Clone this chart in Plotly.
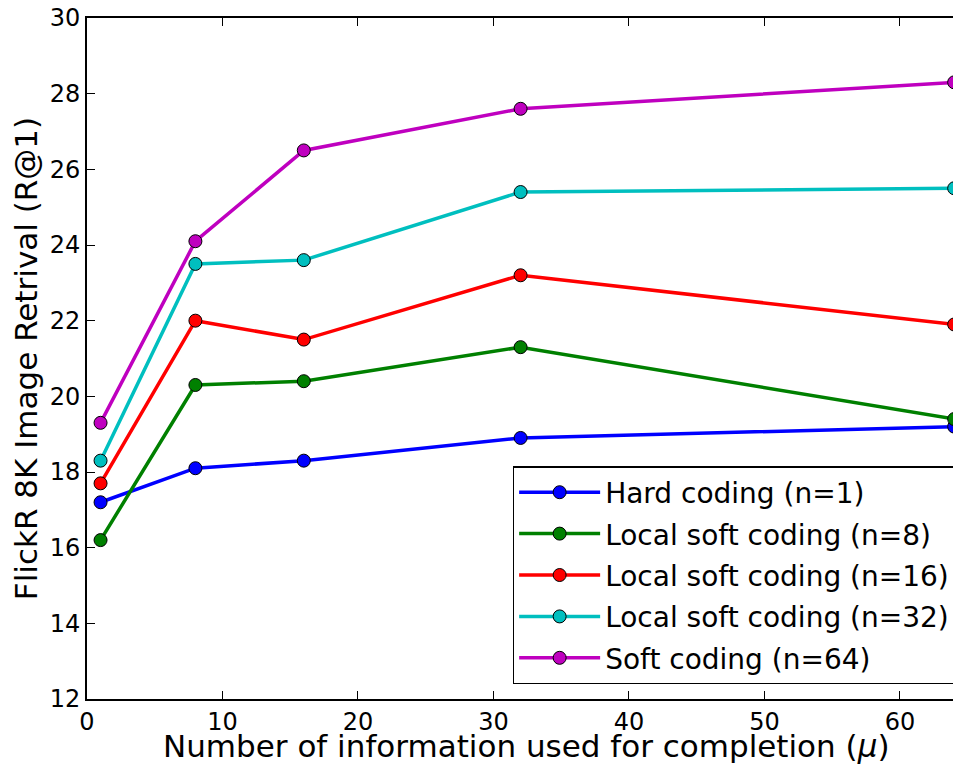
import plotly.graph_objects as go

mu = [1, 8, 16, 32, 64]
hard_n1 = [17.2, 18.1, 18.3, 18.9, 19.2]
local_n8 = [16.2, 20.3, 20.4, 21.3, 19.4]
local_n16 = [17.7, 22.0, 21.5, 23.2, 21.9]
local_n32 = [18.3, 23.5, 23.6, 25.4, 25.5]
soft_n64 = [19.3, 24.1, 26.5, 27.6, 28.3]

x_title = "Number of information used for completion (<i>μ</i>)"
y_title = "FlickR 8K Image Retrival (R@1)"

series = [
    ("Hard coding (n=1)", hard_n1, "#0000ff"),
    ("Local soft coding (n=8)", local_n8, "#008000"),
    ("Local soft coding (n=16)", local_n16, "#ff0000"),
    ("Local soft coding (n=32)", local_n32, "#00bfbf"),
    ("Soft coding (n=64)", soft_n64, "#bf00bf"),
]

fig = go.Figure()
for i, (name, vals, col) in enumerate(series):
    fig.add_trace(go.Scatter(
        x=mu, y=vals, name=name, mode="lines+markers",
        line=dict(color=col, width=3.5),
        marker=dict(color=col, size=13, line=dict(color="black", width=1)),
        legendgroup=str(i),
        cliponaxis=False,
    ))

axis_common = dict(
    showline=True, linecolor="black", linewidth=2,
    ticks="inside", ticklen=8, tickwidth=1, tickcolor="black",
    showgrid=False, zeroline=False, automargin=False,
    ticklabeloverflow="allow",
    tickfont=dict(family="DejaVu Sans", size=24, color="black"),
)

# the page adds an 8px body margin, so the margins below are shifted by 8px
fig.update_layout(
    width=961, height=764,
    margin=dict(l=79, r=9, t=10, b=73),
    paper_bgcolor="white", plot_bgcolor="white",
    font=dict(family="DejaVu Sans", color="black"),
    xaxis=dict(range=[0, 64.43], dtick=10, tick0=0, mirror="allticks",
               **axis_common),
    yaxis=dict(range=[12, 30], dtick=2, tick0=12, mirror=False,
               title=dict(text=y_title, font=dict(size=31), standoff=6),
               **axis_common),
    legend=dict(
        x=0.995, y=0.022, xanchor="right", yanchor="bottom",
        bgcolor="white", bordercolor="black", borderwidth=1.5,
        font=dict(size=28, family="DejaVu Sans"),
        traceorder="grouped", tracegroupgap=2,
        itemwidth=81,
    ),
    annotations=[dict(
        text=x_title, xref="paper", yref="paper", x=0.503, y=-0.069,
        xanchor="center", yanchor="middle", showarrow=False,
        font=dict(size=31, family="DejaVu Sans", color="black"),
    )],
)

fig.write_html("out.html")
